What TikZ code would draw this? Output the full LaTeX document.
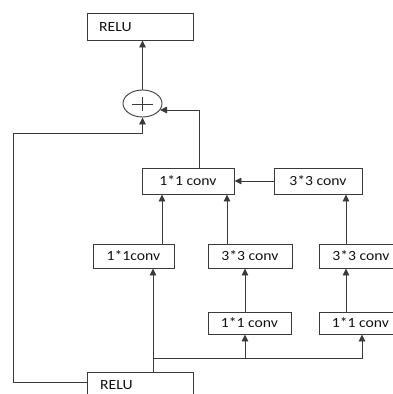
\documentclass[tikz,border=0pt]{standalone}
\usepackage{fontspec}
\setmainfont{Carlito}[FakeStretch=1.12]
\usetikzlibrary{arrows.meta,shapes.geometric,calc}
\definecolor{ln}{HTML}{3A3A3A}
\definecolor{tx}{HTML}{111111}
\tikzset{
  box/.style={draw=ln,line width=0.9pt,rectangle,inner sep=0pt,text=tx,font=\fontsize{14}{16}\selectfont},
  arr/.style={draw=ln,line width=0.9pt,-{Triangle[width=6.5pt,length=7pt]}},
  ln/.style={draw=ln,line width=0.9pt},
  lbl/.style={text=tx,font=\fontsize{14}{16}\selectfont,anchor=west,inner sep=0pt}
}
\begin{document}
\begin{tikzpicture}[x=1pt,y=-1pt]
\useasboundingbox (0,0) rectangle (393,394);
\clip (0,0) rectangle (393,394);
% boxes
\node[box,minimum width=106pt,minimum height=27pt] (relutop) at (140,26.5) {};
\node[lbl] (relutopt) at (99,27) {RELU};
\node[draw=ln,line width=0.9pt,ellipse,minimum width=39pt,minimum height=27pt,inner sep=0pt] (plus) at (142.5,103.5) {};
\draw[ln] (132,104) -- (153,104);
\draw[ln] (142.5,97) -- (142.5,111);
\node[box,minimum width=92pt,minimum height=26pt] (mid11) at (188,181) {1*1 conv};
\node[box,minimum width=88pt,minimum height=26pt] (top33) at (318,181) {3*3 conv};
\node[box,minimum width=81pt,minimum height=24pt] (r2a) at (133.5,256) {1*1conv};
\node[box,minimum width=84pt,minimum height=24pt] (r2b) at (250,256) {3*3 conv};
\node[box,minimum width=84pt,minimum height=24pt] (r2c) at (361,256) {3*3 conv};
\node[box,minimum width=83pt,minimum height=22pt] (r3a) at (249.5,323) {1*1 conv};
\node[box,minimum width=83pt,minimum height=22pt] (r3b) at (360.5,323) {1*1 conv};
\node[box,minimum width=106pt,minimum height=27pt] (relubot) at (140,385.5) {};
\node[lbl] (relubott) at (100,385) {RELU};
% coordinates
\coordinate (pin) at (160,110);
\coordinate (sk) at (87,382);
\coordinate (br) at (153,358);
% connectors
\draw[arr] (plus.north) -- (plus.north |- relutop.south);
\draw[arr] ([xshift=11pt]mid11.north) |- (pin);
\draw[arr] (sk) -- (13,382) -- (13,133) -- (142.5,133) -- (plus.south);
\draw[arr] (top33.west) -- (mid11.east);
\draw[arr] ([xshift=28.5pt]r2a.north) -- ([xshift=28.5pt]r2a.north |- mid11.south);
\draw[arr] ([xshift=-23pt]r2b.north) -- ([xshift=-23pt]r2b.north |- mid11.south);
\draw[arr] ([xshift=-15pt]r2c.north) -- ([xshift=-15pt]r2c.north |- top33.south);
\draw[arr] ([xshift=-4.5pt]r3a.north) -- ([xshift=-4.5pt]r3a.north |- r2b.south);
\draw[arr] ([xshift=-14.5pt]r3b.north) -- ([xshift=-14.5pt]r3b.north |- r2c.south);
\draw[arr] ([xshift=13pt]relubot.north) -- ([xshift=13pt]relubot.north |- r2a.south);
\draw[arr] (br) -| ([xshift=1.5pt]r3b.south);
\draw[arr] ([xshift=-4.5pt]r3a.south |- br) -- ([xshift=-4.5pt]r3a.south);
\end{tikzpicture}
\end{document}
